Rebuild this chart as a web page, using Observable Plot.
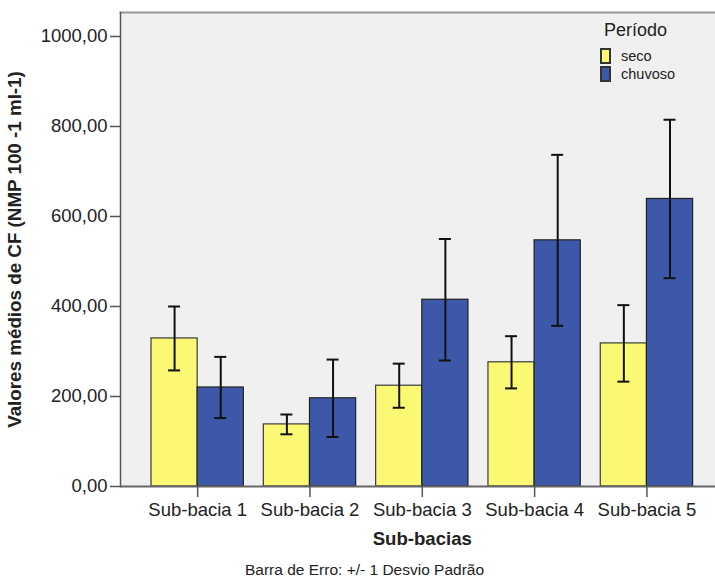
<!DOCTYPE html>
<html><head><meta charset="utf-8">
<script src="https://cdn.jsdelivr.net/npm/d3@7"></script>
<script src="https://cdn.jsdelivr.net/npm/@observablehq/plot@0.6"></script>
<style>
body{margin:0;background:#fff;overflow:hidden;font-family:"Liberation Sans",Arial,sans-serif;color:#222;}
#wrap{position:relative;width:715px;height:581px;overflow:hidden;}
#chart svg{display:block;}
[aria-label="x-axis label"], [aria-label="x-axis label"] text{font-weight:bold;font-size:18.6px;}
[aria-label="y-axis label"], [aria-label="y-axis label"] text{font-weight:bold;font-size:18.8px;}
#caption{position:absolute;left:245px;top:561px;font-size:15.5px;line-height:18px;color:#222;white-space:nowrap;}
#legend{position:absolute;left:601px;top:19px;}
#legtitle{font-size:18px;line-height:22px;margin-left:3px;margin-bottom:8px;color:#222;}
#leg .lg-swatch{padding-bottom:4px;font-size:14.5px;line-height:14px;}
#leg svg{margin-right:11px !important;}
#leg svg rect{stroke:#333;stroke-width:2px;}
</style></head><body>
<div id="wrap">
  <div id="chart"></div>
  <div id="legend"><div id="legtitle">Período</div><div id="leg"></div></div>
  <div id="caption">Barra de Erro: +/- 1 Desvio Padrão</div>
</div>
<script>
const subbacias = ["Sub-bacia 1", "Sub-bacia 2", "Sub-bacia 3", "Sub-bacia 4", "Sub-bacia 5"];
const periodos = ["seco", "chuvoso"];
const secoMedia = [329, 138, 224, 276, 318];
const secoDP = [71, 22, 49, 58, 85];
const chuvosoMedia = [220, 196, 415, 547, 639];
const chuvosoDP = [68, 86, 135, 190, 176];
const yTicks = [0, 200, 400, 600, 800, 1000];
const cores = ["#fbf873", "#3d58a8"];

const data = subbacias.flatMap((s, i) => [
  {sub: s, periodo: "seco", media: secoMedia[i], dp: secoDP[i]},
  {sub: s, periodo: "chuvoso", media: chuvosoMedia[i], dp: chuvosoDP[i]}
]);
const seco = data.filter(d => d.periodo === "seco");
const chuvoso = data.filter(d => d.periodo === "chuvoso");
const fmt = d => d3.format(".2f")(d).replace(".", ",");

const W = 715, H = 556, mL = 120, mR = -8.6, mT = 12, mB = 70;
const padIn = 0.178, padOut = 0.276;
const bw = d3.scaleBand().domain(subbacias).range([mL, W - mR]).paddingInner(padIn).paddingOuter(padOut).bandwidth();
const half = bw / 2, cap = 6;

const chart = Plot.plot({
  width: W, height: H, marginLeft: mL, marginRight: mR, marginTop: mT, marginBottom: mB,
  style: {fontFamily: '"Liberation Sans", Arial, sans-serif', color: "#222", background: "white", overflow: "hidden"},
  x: {domain: subbacias, paddingInner: padIn, paddingOuter: padOut, round: false, label: null, axis: null},
  y: {domain: [0, 1053.3], label: null, axis: null},
  color: {domain: periodos, range: cores},
  marks: [
    Plot.frame({fill: "#f0f0f0", stroke: null}),
    Plot.frame({anchor: "top", stroke: "#999", strokeWidth: 2}),
    Plot.barY(seco, {x: "sub", y: "media", fill: "periodo", stroke: "#3a3a3a", strokeWidth: 1.2, insetLeft: 0, insetRight: half}),
    Plot.barY(chuvoso, {x: "sub", y: "media", fill: "periodo", stroke: "#222", strokeWidth: 1.2, insetLeft: half, insetRight: 0}),
    Plot.ruleX(seco, {x: "sub", y1: d => d.media - d.dp, y2: d => d.media + d.dp, dx: -bw / 4, stroke: "#111", strokeWidth: 2}),
    Plot.ruleX(chuvoso, {x: "sub", y1: d => d.media - d.dp, y2: d => d.media + d.dp, dx: bw / 4, stroke: "#111", strokeWidth: 2}),
    Plot.tickY(seco, {x: "sub", y: d => d.media - d.dp, insetLeft: bw / 4 - cap, insetRight: 3 * bw / 4 - cap, stroke: "#111", strokeWidth: 2}),
    Plot.tickY(seco, {x: "sub", y: d => d.media + d.dp, insetLeft: bw / 4 - cap, insetRight: 3 * bw / 4 - cap, stroke: "#111", strokeWidth: 2}),
    Plot.tickY(chuvoso, {x: "sub", y: d => d.media - d.dp, insetLeft: 3 * bw / 4 - cap, insetRight: bw / 4 - cap, stroke: "#111", strokeWidth: 2}),
    Plot.tickY(chuvoso, {x: "sub", y: d => d.media + d.dp, insetLeft: 3 * bw / 4 - cap, insetRight: bw / 4 - cap, stroke: "#111", strokeWidth: 2}),
    Plot.ruleY([0], {stroke: "#666", strokeWidth: 2}),
    Plot.frame({anchor: "left", stroke: "#555", strokeWidth: 1.5}),
    Plot.axisY({ticks: yTicks, tickFormat: fmt, tickSize: 10, tickPadding: 3, fontSize: 18.5, stroke: "#555", strokeWidth: 1.5,
      label: "Valores médios de CF (NMP 100 -1 ml-1)", labelAnchor: "center", labelOffset: 113, labelArrow: "none"}),
    Plot.axisX({anchor: "bottom", tickSize: 11, tickPadding: 5, fontSize: 18.5, stroke: "#555", strokeWidth: 1.5,
      label: "Sub-bacias", labelAnchor: "center", labelOffset: 58, labelArrow: "none"})
  ]
});
document.getElementById("chart").appendChild(chart);

const leg = Plot.legend({
  color: {domain: periodos, range: cores},
  legend: "swatches", columns: 1, swatchWidth: 9, swatchHeight: 14, className: "lg",
  style: {fontFamily: '"Liberation Sans", Arial, sans-serif', fontSize: "14.5px", color: "#222", background: "transparent"}
});
document.getElementById("leg").appendChild(leg);
</script>
</body></html>
